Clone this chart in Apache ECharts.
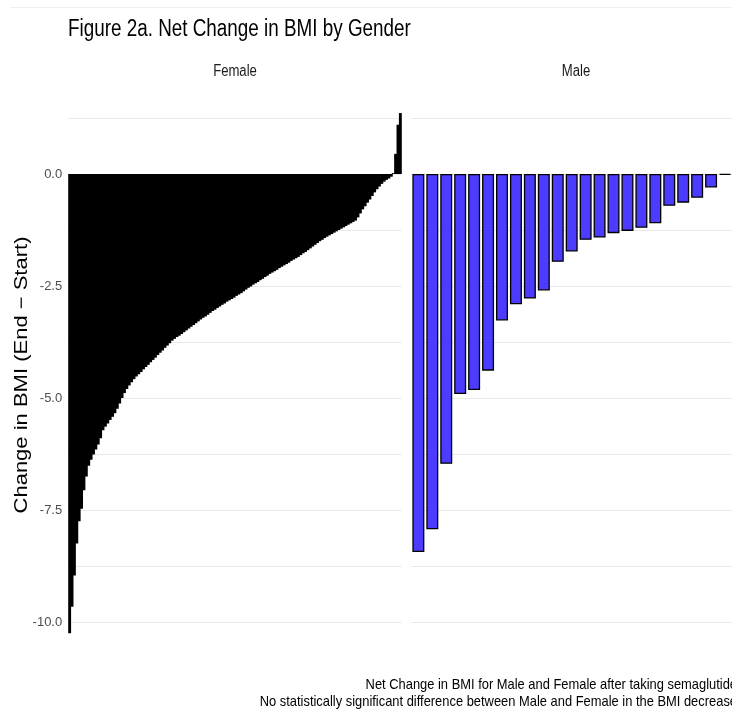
<!DOCTYPE html>
<html>
<head>
<meta charset="utf-8">
<script src="https://cdn.jsdelivr.net/npm/echarts@6/dist/echarts.min.js"></script>
<style>
html,body{margin:0;padding:0;background:#fff;}
#chart{width:732px;height:711px;}
</style>
</head>
<body>
<div id="chart"></div>
<script>
// ---- data ----
const panelNames = ['Female', 'Male'];
const femaleChange = [
  -10.25, -9.66, -8.96, -8.25, -7.75, -7.47, -7.06, -6.75, -6.51, -6.38,
  -6.26, -6.15, -6.04, -5.90, -5.72, -5.64, -5.57, -5.49, -5.42, -5.34,
  -5.24, -5.12, -5.00, -4.89, -4.80, -4.72, -4.65, -4.58, -4.52, -4.47,
  -4.42, -4.36, -4.31, -4.26, -4.20, -4.15, -4.10, -4.04, -3.99, -3.94,
  -3.88, -3.83, -3.78, -3.72, -3.68, -3.64, -3.61, -3.57, -3.53, -3.49,
  -3.45, -3.41, -3.37, -3.33, -3.29, -3.25, -3.21, -3.18, -3.14, -3.10,
  -3.06, -3.03, -2.99, -2.96, -2.92, -2.89, -2.85, -2.82, -2.79, -2.76,
  -2.72, -2.69, -2.66, -2.62, -2.58, -2.54, -2.51, -2.47, -2.44, -2.41,
  -2.37, -2.34, -2.30, -2.27, -2.23, -2.20, -2.17, -2.14, -2.10, -2.07,
  -2.04, -2.01, -1.98, -1.94, -1.91, -1.88, -1.85, -1.81, -1.77, -1.74,
  -1.70, -1.66, -1.62, -1.58, -1.54, -1.50, -1.47, -1.43, -1.40, -1.37,
  -1.34, -1.31, -1.28, -1.25, -1.22, -1.19, -1.16, -1.13, -1.10, -1.07,
  -1.04, -0.97, -0.88, -0.79, -0.72, -0.64, -0.57, -0.49, -0.41, -0.34,
  -0.28, -0.22, -0.17, -0.13, -0.10, -0.06, 0.02, 0.45, 1.10, 1.36
];
const maleChange = [
  -8.44, -7.93, -6.47, -4.91, -4.82, -4.39, -3.27, -2.91, -2.78, -2.60,
  -1.96, -1.73, -1.47, -1.42, -1.32, -1.27, -1.20, -1.10, -0.71, -0.64,
  -0.53, -0.30, -0.02
];
const femaleIds = femaleChange.map((_, i) => 'F' + (i + 1));
const maleIds = maleChange.map((_, i) => 'M' + (i + 1));
const yTickLabels = [-10, -7.5, -5, -2.5, 0];
const titleText = 'Figure 2a. Net Change in BMI by Gender';
const yTitle = 'Change in BMI (End \u2212 Start)';
const captionLines = [
  'Net Change in BMI for Male and Female after taking semaglutide',
  'No statistically significant difference between Male and Female in the BMI decrease'
];

// ---- chart ----
const chart = echarts.init(document.getElementById('chart'), null, {renderer: 'canvas'});
const SX = 0.82; // horizontal squeeze of the reference image
const FONT = 'Liberation Sans, Arial, sans-serif';
const gridLine = {show: true, showMinLine: false, showMaxLine: false, lineStyle: {color: '#e9e9e9', width: 1.2}};
const yBase = {
  type: 'value', min: -11.25, max: 2.5, interval: 1.25,
  axisLine: {show: false}, axisTick: {show: false},
  splitLine: gridLine
};
const option = {
  backgroundColor: '#ffffff',
  animation: false,
  grid: [
    {left: 68.2, width: 333.6, top: 62, bottom: 33},
    {left: 411.4, right: -9.5, top: 62, bottom: 33}
  ],
  xAxis: [
    {type: 'category', gridIndex: 0, data: femaleIds, show: false},
    {type: 'category', gridIndex: 1, data: maleIds, show: false}
  ],
  yAxis: [
    Object.assign({}, yBase, {
      gridIndex: 0,
      axisLabel: {
        show: true, margin: 6, color: '#4d4d4d', fontSize: 13, fontFamily: FONT,
        formatter: v => (yTickLabels.some(t => Math.abs(t - v) < 1e-6) ? v.toFixed(1) : '')
      }
    }),
    Object.assign({}, yBase, {gridIndex: 1, axisLabel: {show: false}})
  ],
  series: [
    {
      name: panelNames[0], type: 'bar', xAxisIndex: 0, yAxisIndex: 0,
      data: femaleChange, barWidth: 3.4,
      itemStyle: {color: '#000000', borderWidth: 0}
    },
    {
      name: panelNames[1], type: 'bar', xAxisIndex: 1, yAxisIndex: 1,
      data: maleChange, barWidth: '86%',
      itemStyle: {color: '#4b3cff', borderColor: '#000000', borderWidth: 1.3}
    }
  ],
  graphic: [
    {type: 'line', shape: {x1: 10, y1: 7.5, x2: 732, y2: 7.5}, style: {stroke: '#f0f0f0', lineWidth: 1}},
    {type: 'text', x: 68, y: 30, scaleX: SX,
      style: {text: titleText, fontSize: 23, fill: '#000', align: 'left', verticalAlign: 'middle', fontFamily: FONT}},
    {type: 'text', x: 235, y: 71.5, scaleX: SX,
      style: {text: panelNames[0], fontSize: 16, fill: '#1a1a1a', align: 'center', verticalAlign: 'middle', fontFamily: FONT}},
    {type: 'text', x: 576, y: 71.5, scaleX: SX,
      style: {text: panelNames[1], fontSize: 16, fill: '#1a1a1a', align: 'center', verticalAlign: 'middle', fontFamily: FONT}},
    {type: 'text', x: 22, y: 375, rotation: Math.PI / 2, scaleY: SX,
      style: {text: yTitle, fontSize: 22, fill: '#000', align: 'center', verticalAlign: 'middle', fontFamily: FONT}},
    {type: 'text', x: 737, y: 685, scaleX: 0.86,
      style: {text: captionLines[0], fontSize: 15, fill: '#000', align: 'right', verticalAlign: 'middle', fontFamily: FONT}},
    {type: 'text', x: 737, y: 702, scaleX: 0.86,
      style: {text: captionLines[1], fontSize: 15, fill: '#000', align: 'right', verticalAlign: 'middle', fontFamily: FONT}}
  ]
};
chart.setOption(option);
</script>
</body>
</html>
